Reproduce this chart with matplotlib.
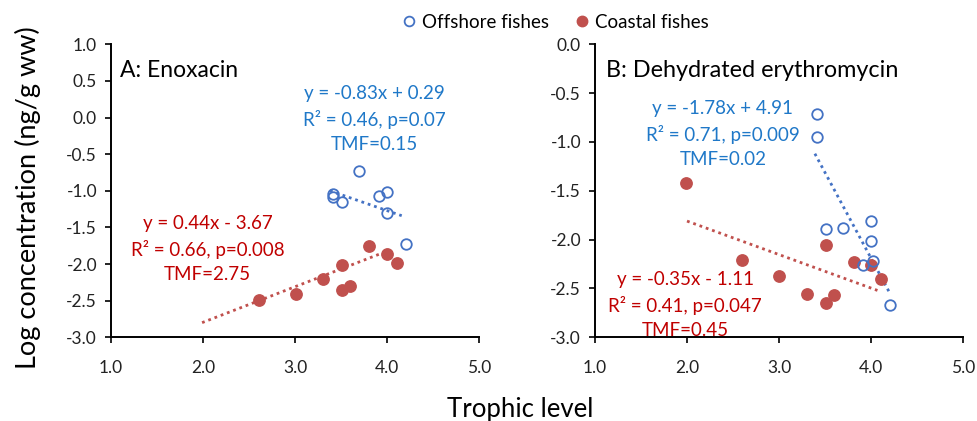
import matplotlib
matplotlib.use("Agg")
import matplotlib.pyplot as plt
from matplotlib.lines import Line2D

plt.rcParams['font.family'] = ['Lato', 'DejaVu Sans']

# ---------------- data ----------------
# Panel A: Enoxacin
a_off_x = [3.70, 3.41, 3.41, 3.51, 3.91, 4.00, 4.00, 4.21]
a_off_y = [-0.73, -1.04, -1.08, -1.15, -1.07, -1.02, -1.30, -1.72]
a_coa_x = [2.61, 3.01, 3.30, 3.51, 3.51, 3.60, 3.80, 4.00, 4.11]
a_coa_y = [-2.49, -2.41, -2.21, -2.01, -2.36, -2.30, -1.75, -1.86, -1.99]
a_off_trend_x = [3.38, 4.16]
a_off_trend_y = [-1.00, -1.34]
a_coa_trend_x = [1.99, 4.03]
a_coa_trend_y = [-2.80, -1.81]

# Panel B: Dehydrated erythromycin
b_off_x = [3.41, 3.41, 3.51, 3.70, 4.00, 4.00, 3.91, 4.21, 4.02]
b_off_y = [-0.71, -0.95, -1.89, -1.88, -1.81, -2.01, -2.26, -2.67, -2.22]
b_coa_x = [1.99, 2.60, 3.00, 3.30, 3.51, 3.51, 3.60, 3.81, 4.00, 4.11]
b_coa_y = [-1.42, -2.21, -2.37, -2.56, -2.06, -2.65, -2.57, -2.23, -2.26, -2.40]
b_off_trend_x = [3.39, 4.20]
b_off_trend_y = [-1.12, -2.54]
b_coa_trend_x = [2.00, 4.07]
b_coa_trend_y = [-1.81, -2.52]

a_off_text = "y = -0.83x + 0.29\nR² = 0.46, p=0.07\nTMF=0.15"
a_coa_text = "y = 0.44x - 3.67\nR² = 0.66, p=0.008\nTMF=2.75"
b_off_text = "y = -1.78x + 4.91\nR² = 0.71, p=0.009\nTMF=0.02"
b_coa_text = "y = -0.35x - 1.11\nR² = 0.41, p=0.047\nTMF=0.45"

x_ticks = [1.0, 2.0, 3.0, 4.0, 5.0]
a_y_ticks = [1.0, 0.5, 0.0, -0.5, -1.0, -1.5, -2.0, -2.5, -3.0]
b_y_ticks = [0.0, -0.5, -1.0, -1.5, -2.0, -2.5, -3.0]

# ---------------- style ----------------
OFF_EDGE = '#4472C4'
OFF_TEXT = '#1F78C8'
COA_FILL = '#C0504D'
COA_TEXT = '#C00000'
W, H = 977, 421

fig = plt.figure(figsize=(W / 100, H / 100), dpi=100)

def make_ax(left_px, yticks, ylim):
    ax = fig.add_axes([left_px / W, (H - 337.3) / H, 368 / W, (337.3 - 44.3) / H])
    ax.set_xlim(1, 5)
    ax.set_ylim(*ylim)
    ax.set_xticks(x_ticks)
    ax.set_xticklabels([f"{v:.1f}" for v in x_ticks])
    ax.set_yticks(yticks)
    ax.set_yticklabels([f"{v:.1f}" for v in yticks])
    for s in ('top', 'right'):
        ax.spines[s].set_visible(False)
    for s in ('left', 'bottom'):
        ax.spines[s].set_linewidth(1.4)
        ax.spines[s].set_color('black')
    ax.tick_params(direction='out', length=4, width=1.2, labelsize=12.5, colors='black')
    ax.tick_params(axis='x', pad=12)
    ax.tick_params(axis='y', pad=6)
    for lab in ax.get_xticklabels() + ax.get_yticklabels():
        lab.set_color('#222222')
    return ax

def draw(ax, ox, oy, cx, cy, otx, oty, ctx, cty):
    ax.plot(otx, oty, color=OFF_EDGE, lw=2.0, linestyle=(0, (1, 1.4)), zorder=2)
    ax.plot(ctx, cty, color=COA_FILL, lw=2.0, linestyle=(0, (1, 1.4)), zorder=2)
    ax.plot(cx, cy, 'o', ms=8.2, mfc=COA_FILL, mec=COA_FILL, zorder=3)
    ax.plot(ox, oy, 'o', ms=7.6, mfc='none', mec=OFF_EDGE, mew=1.3, zorder=4)

LS = 1.5
EQ_FS = 13.5

axA = make_ax(111, a_y_ticks, (-3.0, 1.0))
draw(axA, a_off_x, a_off_y, a_coa_x, a_coa_y,
     a_off_trend_x, a_off_trend_y, a_coa_trend_x, a_coa_trend_y)
axA.text(0.025, 0.945, "A: Enoxacin", transform=axA.transAxes, fontsize=16.5,
         ha='left', va='top', color='black')
axA.text(3.86, -0.02, a_off_text, fontsize=EQ_FS, color=OFF_TEXT, ha='center',
         va='center', linespacing=LS)
axA.text(2.05, -1.80, a_coa_text, fontsize=EQ_FS, color=COA_TEXT, ha='center',
         va='center', linespacing=LS)

axB = make_ax(595, b_y_ticks, (-3.0, 0.0))
draw(axB, b_off_x, b_off_y, b_coa_x, b_coa_y,
     b_off_trend_x, b_off_trend_y, b_coa_trend_x, b_coa_trend_y)
axB.text(0.03, 0.945, "B: Dehydrated erythromycin", transform=axB.transAxes,
         fontsize=16.8, ha='left', va='top', color='black')
axB.text(2.39, -0.92, b_off_text, fontsize=EQ_FS, color=OFF_TEXT, ha='center',
         va='center', linespacing=LS)
axB.text(1.98, -2.67, b_coa_text, fontsize=EQ_FS, color=COA_TEXT, ha='center',
         va='center', linespacing=LS)

fig.text(28 / W, 1 - 198 / H, "Log concentration (ng/g ww)", rotation=90,
         ha='center', va='center', fontsize=19.5, color='black')
fig.text(520 / W, 1 - 410 / H, "Trophic level", ha='center', va='center',
         fontsize=18.5, color='black')

handles = [
    Line2D([], [], marker='o', linestyle='none', ms=7, mfc='none', mec=OFF_EDGE, mew=1.3),
    Line2D([], [], marker='o', linestyle='none', ms=7.5, mfc=COA_FILL, mec=COA_FILL),
]
fig.legend(handles, ["Offshore fishes", "Coastal fishes"], loc='center',
           bbox_to_anchor=(554 / W, 1 - 22 / H), ncol=2, frameon=False,
           fontsize=13.5, handletextpad=0.2, columnspacing=1.25, handlelength=1.0)

fig.savefig("out.png", dpi=100)
